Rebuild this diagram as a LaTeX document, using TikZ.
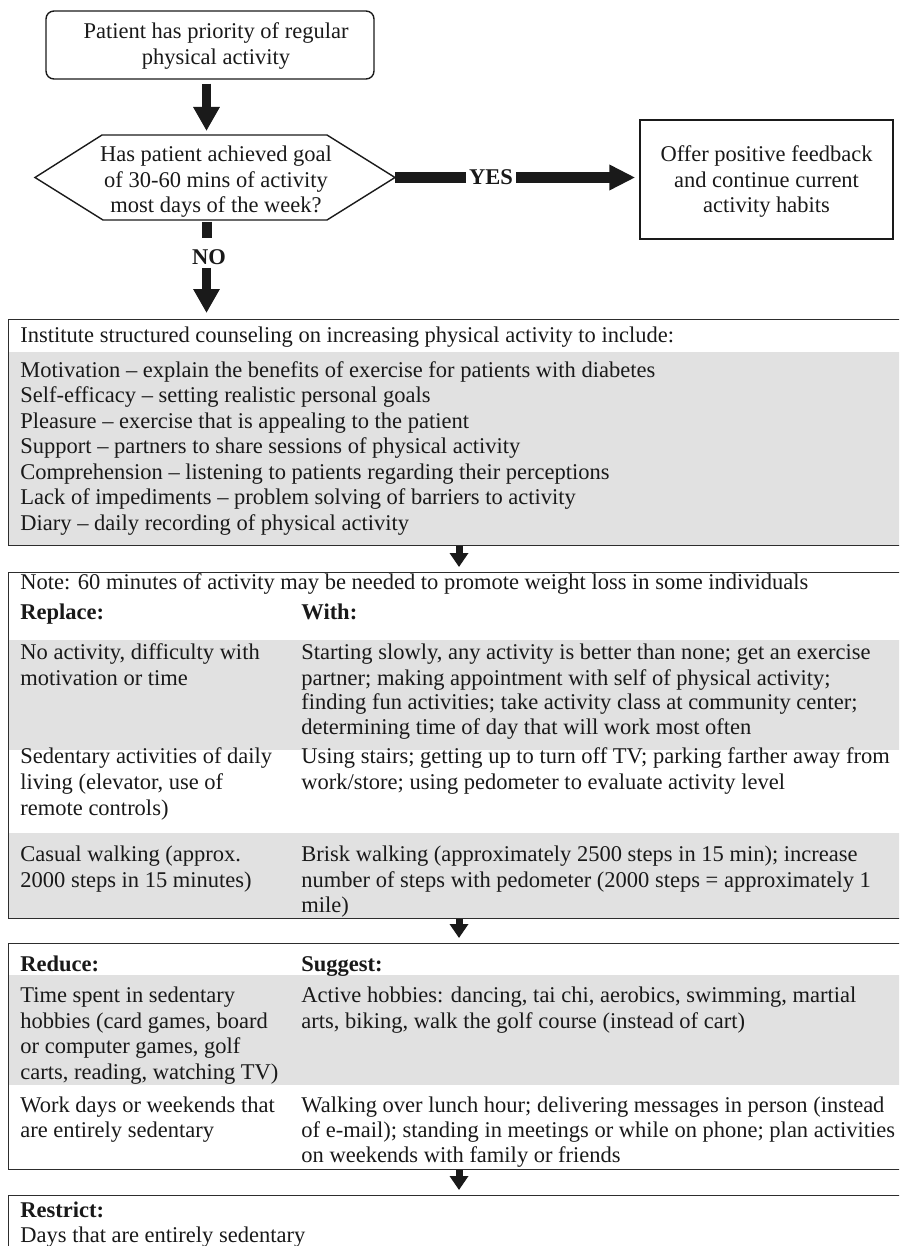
\documentclass[tikz,border=0pt]{standalone}
\usepackage{fontspec}
\setmainfont{Liberation Serif}
\usetikzlibrary{arrows.meta,calc}
\definecolor{rowgray}{RGB}{225,225,225}
\definecolor{ink}{RGB}{26,26,26}
\definecolor{framec}{RGB}{45,45,45}
\newcommand\fs{\fontsize{11.25}{12.75}\selectfont}
\begin{document}
\begin{tikzpicture}[x=0.5pt,y=-0.5pt,
  txt/.style={anchor=base west, inner sep=0pt, font=\fs, text=black!90},
  btxt/.style={txt, font=\fs\bfseries},
  ctr/.style={anchor=center, inner sep=0pt, font=\fs, align=center, text=black!90},
  shapeline/.style={draw=ink, line width=0.7pt},
  frame/.style={draw=framec, line width=0.7pt, minimum width=448.5pt, inner sep=0pt, anchor=north west},
  bigarrow/.style={draw=ink, line width=4.5pt, -{Triangle[width=12.5pt,length=12pt]}},
  yesarrow/.style={draw=ink, line width=5.5pt, -{Triangle[width=12pt,length=13pt]}},
  smallarrow/.style={draw=ink, line width=3.5pt, -{Triangle[width=9pt,length=7pt]}},
  bar/.style={draw=ink, line width=5.5pt}
]
\useasboundingbox (0,0) rectangle (899,1246);
\clip (0,0) rectangle (899,1246);
\coordinate (ax1) at (206.5,0);
\coordinate (ax2) at (459,0);

% ---- top flowchart
\node[shapeline, rounded corners=4pt, minimum width=164pt, minimum height=34pt, inner sep=0pt] (start) at (210,45) {};
\node[ctr] (startt) at (216,46) {Patient has priority of regular\\physical activity};

\coordinate (hL) at (35,177.5);
\coordinate (hTL) at (102,135);
\coordinate (hTR) at (327,135);
\coordinate (hR) at (395,177.5);
\coordinate (hBR) at (327,220);
\coordinate (hBL) at (103,220);
\coordinate (hT) at (216,135);
\coordinate (hB) at (216,220);
\draw[shapeline] (hL) -- (hTL) -- (hTR) -- (hR) -- (hBR) -- (hBL) -- cycle;
\node[ctr] (q) at (216,182) {Has patient achieved goal\\of 30-60 mins of activity\\most days of the week?};

\draw[bigarrow] ($(start.south -| ax1)+(0,4)$) -- ($(hT -| ax1)+(0,-4)$);

\node[shapeline, minimum width=126.5pt, minimum height=59.5pt, inner sep=0pt] (fb) at (766.5,179.5) {};
\node[ctr] (fbt) at (766.5,182) {Offer positive feedback\\and continue current\\activity habits};

\node[anchor=center, inner sep=1.5pt, font=\fs\bfseries, text=black!90] (yes) at (491,177.5) {YES};
\draw[bar] (hR) -- (yes.west);
\draw[yesarrow] (yes.east) -- ($(fb.west |- yes.east)+(-4,0)$);

\node[anchor=center, inner sep=0pt, font=\fs\bfseries, text=black!90] (no) at (209,257) {NO};
\draw[bar, line width=5pt] ($(hB -| ax1)+(0,2)$) -- ($(hB -| ax1)+(0,18)$);

% ---- box 1
\fill[rowgray] (8,352) rectangle (905,545);
\node[frame, minimum height=113pt] (box1) at (8,319) {};
\draw[bigarrow] ($(no.south -| ax1)+(0,3)$) -- ($(box1.north -| ax1)+(0,-6)$);
\node[txt] (b1h) at (20,342) {Institute structured counseling on increasing physical activity to include:};
\node[txt] (b1a) at (20,377) {Motivation -- explain the benefits of exercise for patients with diabetes};
\node[txt] (b1b) at (20,402.5) {Self-efficacy -- setting realistic personal goals};
\node[txt] (b1c) at (20,428) {Pleasure -- exercise that is appealing to the patient};
\node[txt] (b1d) at (20,453.5) {Support -- partners to share sessions of physical activity};
\node[txt] (b1e) at (20,479) {Comprehension -- listening to patients regarding their perceptions};
\node[txt] (b1f) at (20,504.5) {Lack of impediments -- problem solving of barriers to activity};
\node[txt] (b1g) at (20,530) {Diary -- daily recording of physical activity};

% ---- box 2
\fill[rowgray] (8,640) rectangle (905,750);
\fill[rowgray] (8,833) rectangle (905,918);
\node[frame, minimum height=173pt] (box2) at (8,572) {};
\draw[smallarrow] (box1.south -| ax2) -- ($(box2.north -| ax2)+(0,-5)$);
\node[txt] (b2n) at (20,589) {Note: 60 minutes of activity may be needed to promote weight loss in some individuals};
\node[btxt] (b2h1) at (20,619) {Replace:};
\node[btxt] (b2h2) at (301,619) {With:};
\node[txt] (r1a) at (20,659) {No activity, difficulty with};
\node[txt] (r1b) at (20,685) {motivation or time};
\node[txt] (w1a) at (301,659) {Starting slowly, any activity is better than none; get an exercise};
\node[txt] (w1b) at (301,685) {partner; making appointment with self of physical activity;};
\node[txt] (w1c) at (301,709) {finding fun activities; take activity class at community center;};
\node[txt] (w1d) at (301,734) {determining time of day that will work most often};
\node[txt] (r2a) at (20,763) {Sedentary activities of daily};
\node[txt] (r2b) at (20,789) {living (elevator, use of};
\node[txt] (r2c) at (20,815) {remote controls)};
\node[txt] (w2a) at (301,763) {Using stairs; getting up to turn off TV; parking farther away from};
\node[txt] (w2b) at (301,789) {work/store; using pedometer to evaluate activity level};
\node[txt] (r3a) at (20,861) {Casual walking (approx.};
\node[txt] (r3b) at (20,887) {2000 steps in 15 minutes)};
\node[txt] (w3a) at (301,861) {Brisk walking (approximately 2500 steps in 15 min); increase};
\node[txt] (w3b) at (301,887) {number of steps with pedometer (2000 steps = approximately 1};
\node[txt] (w3c) at (301,912) {mile)};

% ---- box 3
\fill[rowgray] (8,975) rectangle (905,1085);
\node[frame, minimum height=113pt] (box3) at (8,943) {};
\draw[smallarrow] (box2.south -| ax2) -- ($(box3.north -| ax2)+(0,-5)$);
\node[btxt] (b3h1) at (20,971) {Reduce:};
\node[btxt] (b3h2) at (301,971) {Suggest:};
\node[txt] (s1a) at (20,1002) {Time spent in sedentary};
\node[txt] (s1b) at (20,1028) {hobbies (card games, board};
\node[txt] (s1c) at (20,1053) {or computer games, golf};
\node[txt] (s1d) at (20,1079) {carts, reading, watching TV)};
\node[txt] (g1a) at (301,1002) {Active hobbies: dancing, tai chi, aerobics, swimming, martial};
\node[txt] (g1b) at (301,1028) {arts, biking, walk the golf course (instead of cart)};
\node[txt] (s2a) at (20,1112) {Work days or weekends that};
\node[txt] (s2b) at (20,1137) {are entirely sedentary};
\node[txt] (g2a) at (301,1112) {Walking over lunch hour; delivering messages in person (instead};
\node[txt] (g2b) at (301,1137) {of e-mail); standing in meetings or while on phone; plan activities};
\node[txt] (g2c) at (301,1162) {on weekends with family or friends};

% ---- box 4
\node[frame, minimum height=40pt] (box4) at (8,1195) {};
\draw[smallarrow] (box3.south -| ax2) -- ($(box4.north -| ax2)+(0,-5)$);
\node[btxt] (b4h) at (20,1217) {Restrict:};
\node[txt] (b4a) at (20,1242) {Days that are entirely sedentary};
\end{tikzpicture}
\end{document}
